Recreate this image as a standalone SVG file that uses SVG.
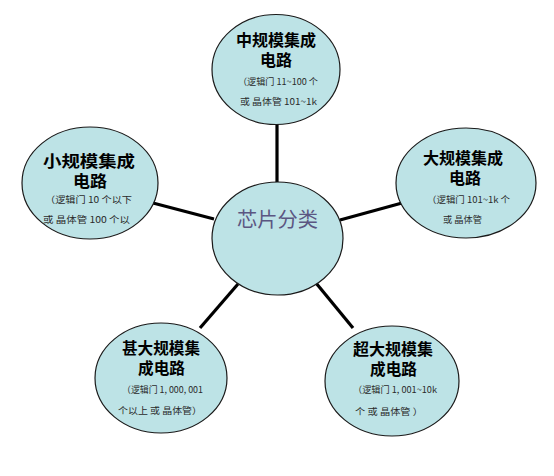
<svg xmlns="http://www.w3.org/2000/svg" width="554" height="476" viewBox="0 0 554 476">
<style>
.node ellipse{fill:#bde3e6;stroke:#1a1a1a;stroke-width:1.2}
.h{font-family:"Noto Sans CJK SC","Liberation Sans",sans-serif;font-weight:bold;font-size:16px;fill:#000}
.s{font-family:"Noto Sans CJK SC","Liberation Sans",sans-serif;font-size:9px;fill:#2a2a2a}
.c{font-family:"Noto Sans CJK SC","Liberation Sans",sans-serif;font-size:20px;fill:#5b5682}
#connectors line{stroke:#000;stroke-width:3.2}
</style>
<rect width="554" height="476" fill="#fff"/>
<g id="connectors">
<line x1="277" y1="124" x2="277" y2="183"/>
<line x1="153" y1="203" x2="214" y2="219"/>
<line x1="340" y1="220" x2="402" y2="203"/>
<line x1="238" y1="284" x2="200" y2="328"/>
<line x1="316" y1="283" x2="353" y2="328"/>
</g>
<g id="center" class="node">
<ellipse cx="277.5" cy="238.5" rx="65.5" ry="56.5"/>
<text class="c" x="237" y="227" textLength="81" lengthAdjust="spacingAndGlyphs">芯片分类</text>
</g>
<g id="medium" class="node">
<ellipse cx="276" cy="69.5" rx="64" ry="55"/>
<text class="h" x="236" y="46" textLength="80" lengthAdjust="spacingAndGlyphs">中规模集成</text>
<text class="h" x="260" y="66" textLength="32" lengthAdjust="spacingAndGlyphs">电路</text>
<text class="s" x="238" y="85" textLength="80" lengthAdjust="spacingAndGlyphs">（逻辑门 11~100 个</text>
<text class="s" x="240" y="105" textLength="77" lengthAdjust="spacingAndGlyphs">或 晶体管 101~1k</text>
</g>
<g id="small" class="node">
<ellipse cx="90" cy="183" rx="68" ry="56"/>
<text class="h" x="43" y="167" textLength="92" lengthAdjust="spacingAndGlyphs">小规模集成</text>
<text class="h" x="73" y="187" textLength="34" lengthAdjust="spacingAndGlyphs">电路</text>
<text class="s" x="45" y="203" textLength="87" lengthAdjust="spacingAndGlyphs">（逻辑门 10 个以下</text>
<text class="s" x="43" y="223" textLength="87" lengthAdjust="spacingAndGlyphs">或 晶体管  100 个以</text>
</g>
<g id="large" class="node">
<ellipse cx="466" cy="183" rx="70" ry="55"/>
<text class="h" x="423" y="164" textLength="80" lengthAdjust="spacingAndGlyphs">大规模集成</text>
<text class="h" x="449" y="184" textLength="32" lengthAdjust="spacingAndGlyphs">电路</text>
<text class="s" x="427" y="203" textLength="83" lengthAdjust="spacingAndGlyphs">（逻辑门 101~1k 个</text>
<text class="s" x="443" y="223" textLength="39" lengthAdjust="spacingAndGlyphs">或 晶体管</text>
</g>
<g id="ulsi" class="node">
<ellipse cx="161" cy="378" rx="66" ry="55"/>
<text class="h" x="122" y="354" textLength="78" lengthAdjust="spacingAndGlyphs">甚大规模集</text>
<text class="h" x="138" y="374" textLength="47" lengthAdjust="spacingAndGlyphs">成电路</text>
<text class="s" x="122" y="393" textLength="81" lengthAdjust="spacingAndGlyphs">（逻辑门 1, 000, 001</text>
<text class="s" x="118" y="414" textLength="84" lengthAdjust="spacingAndGlyphs">个以上 或 晶体管）</text>
</g>
<g id="vlsi" class="node">
<ellipse cx="392" cy="381" rx="67" ry="55"/>
<text class="h" x="353" y="355" textLength="80" lengthAdjust="spacingAndGlyphs">超大规模集</text>
<text class="h" x="370" y="375" textLength="47" lengthAdjust="spacingAndGlyphs">成电路</text>
<text class="s" x="353" y="393" textLength="84" lengthAdjust="spacingAndGlyphs">（逻辑门 1, 001~10k</text>
<text class="s" x="355" y="415" textLength="68" lengthAdjust="spacingAndGlyphs">个 或 晶体管 ）</text>
</g>
</svg>
